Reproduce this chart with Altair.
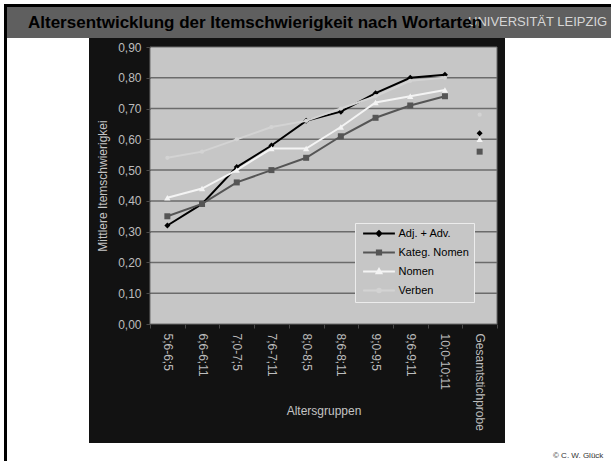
import altair as alt
import pandas as pd

# ---- data -------------------------------------------------------------
groups = ["5;6-6;5", "6;6-6;11", "7;0-7;5", "7;6-7;11", "8;0-8;5",
          "8;6-8;11", "9;0-9;5", "9;6-9;11", "10;0-10;11", "Gesamtstichprobe"]
total_group = "Gesamtstichprobe"

series_names = ["Adj. + Adv.", "Kateg. Nomen", "Nomen", "Verben"]
adj_adv = [0.32, 0.39, 0.51, 0.58, 0.66, 0.69, 0.75, 0.80, 0.81, 0.62]
kateg_nomen = [0.35, 0.39, 0.46, 0.50, 0.54, 0.61, 0.67, 0.71, 0.74, 0.56]
nomen = [0.41, 0.44, 0.50, 0.57, 0.57, 0.64, 0.72, 0.74, 0.76, 0.60]
verben = [0.54, 0.56, 0.60, 0.64, 0.66, 0.70, 0.74, 0.79, 0.80, 0.68]

y_ticks = [0.0, 0.1, 0.2, 0.3, 0.4, 0.5, 0.6, 0.7, 0.8, 0.9]

title_text = "Altersentwicklung der Itemschwierigkeit nach Wortarten"
brand_text = "UNIVERSITÄT LEIPZIG"
credit_text = "© C. W. Glück"
x_title = "Altersgruppen"
y_title = "Mittlere Itemschwierigkei"

# ---- styles -----------------------------------------------------------
FONT = "Liberation Sans"
W, H = 347, 277
colors = ["#000000", "#555555", "#f4f4f4", "#d3d3d3"]
shapes = ["diamond", "square", "triangle-up", "circle"]
sizes = [36, 36, 40, 18]
# legend glyphs: a short line with the series marker in its middle
legend_paths = [
    "M-5.3,0H5.3M-0.8,0L0,-0.8L0.8,0L0,0.8Z",
    "M-5.3,0H5.3M-0.7,-0.7H0.7V0.7H-0.7Z",
    "M-5.3,0H5.3M-0.8,0.6L0,-0.8L0.8,0.6Z",
    "M-5.3,0H5.3M-0.6,0A0.6,0.6,0,1,0,0.6,0A0.6,0.6,0,1,0,-0.6,0Z",
]

rows = []
for name, vals in zip(series_names, [adj_adv, kateg_nomen, nomen, verben]):
    for g, v in zip(groups, vals):
        rows.append({"group": g, "series": name, "value": v})
df = pd.DataFrame(rows)

one = alt.Data(values=[{"k": 0}])

x_scale = alt.Scale(type="band", domain=groups, paddingInner=0, paddingOuter=0)
y_scale = alt.Scale(domain=[0, 0.9], nice=False, zero=True)

x_axis = alt.Axis(
    title=x_title, tickBand="extent", labelAngle=90, labelAlign="left",
    labelBaseline="middle", labelPadding=5, labelColor="#bdbdbd",
    labelFont=FONT, labelFontSize=12, domain=False, tickColor="#4a4a4a",
    tickSize=4, titleColor="#c4c4c4", titleFont=FONT, titleFontSize=12,
    titleFontWeight="normal", titleY=90, titleBaseline="alphabetic",
    zindex=1, grid=False,
)
y_axis = alt.Axis(
    title=y_title, values=y_ticks,
    labelExpr="replace(format(datum.value, '.2f'), '.', ',')",
    labelColor="#bdbdbd", labelFont=FONT, labelFontSize=12, labelPadding=5,
    domain=False, tickColor="#4a4a4a", tickSize=4, grid=False,
    titleColor="#c4c4c4", titleFont=FONT, titleFontSize=12,
    titleFontWeight="normal", titleX=-44, titleBaseline="alphabetic",
    zindex=1,
)


def block(x, x2, y, y2, fill, **kw):
    return alt.Chart(one).mark_rect(fill=fill, **kw).encode(
        x=alt.value(x), x2=alt.value(x2), y=alt.value(y), y2=alt.value(y2))


def label(text, x, y, **kw):
    return alt.Chart(one).mark_text(text=text, align="left",
                                    baseline="alphabetic", **kw).encode(
        x=alt.value(x), y=alt.value(y))


layers = [
    # slide frame and header band
    block(-146, -143, -43, 414, "#000000"),
    block(-146, 461, -43, -40, "#000000"),
    block(-143, 461, -40, -9, "#5f5f5f"),
    label(brand_text, 318, -21, font=FONT, fontSize=13, color="#d6d6d6"),
    label(title_text, -122, -19, font=FONT, fontSize=17,
          fontWeight="bold", color="#000000"),
    label(credit_text, 403, 411, font=FONT, fontSize=8, color="#333333"),
    # dark chart area and plot background
    block(-61, 355, -9, 396, "#121212"),
    block(0, W, 0, H, "#c6c6c6", stroke="#6a6a6a", strokeWidth=1),
    # horizontal grid
    alt.Chart(alt.Data(values=[{"v": v} for v in y_ticks[1:-1]]))
    .mark_rule(color="#6b6b6b", strokeWidth=1.5)
    .encode(y=alt.Y("v:Q", scale=y_scale, axis=y_axis)),
]

base = alt.Chart(df)
for name, col, shp, sz in zip(series_names, colors, shapes, sizes):
    enc = dict(
        x=alt.X("group:N", sort=groups, scale=x_scale, axis=x_axis,
                bandPosition=0.5),
        y=alt.Y("value:Q", scale=y_scale, axis=y_axis),
    )
    layers.append(
        base.transform_filter(
            (alt.datum.series == name) & (alt.datum.group != total_group))
        .mark_line(color=col, strokeWidth=2)
        .encode(**enc)
    )
    layers.append(
        base.transform_filter(alt.datum.series == name)
        .mark_point(shape=shp, size=sz, filled=True, color=col, opacity=1)
        .encode(**enc)
    )

leg = alt.Legend(
    title=None, orient="none", legendX=205, legendY=176,
    fillColor="#c6c6c6", strokeColor="#ececec", padding=5,
    labelFont=FONT, labelFontSize=11, labelColor="#000000",
    symbolSize=36, symbolStrokeWidth=2, symbolOffset=13.5, labelOffset=14,
    rowPadding=6,
)
layers.append(
    alt.Chart(alt.Data(values=[])).mark_point(filled=True, opacity=1).encode(
        fill=alt.Fill("series:N", scale=alt.Scale(domain=series_names, range=colors), legend=leg),
        stroke=alt.Stroke("series:N", scale=alt.Scale(domain=series_names, range=colors), legend=leg),
        shape=alt.Shape("series:N", scale=alt.Scale(domain=series_names, range=legend_paths), legend=leg),
    )
)

chart = alt.layer(*layers).properties(
    width=W, height=H,
    padding={"left": 150, "top": 47, "right": 114, "bottom": 137},
    autosize=alt.AutoSizeParams(type="none"),
    background="white",
).configure_view(stroke=None)

chart.save("out.html", embed_options={"renderer": "svg", "actions": False})
